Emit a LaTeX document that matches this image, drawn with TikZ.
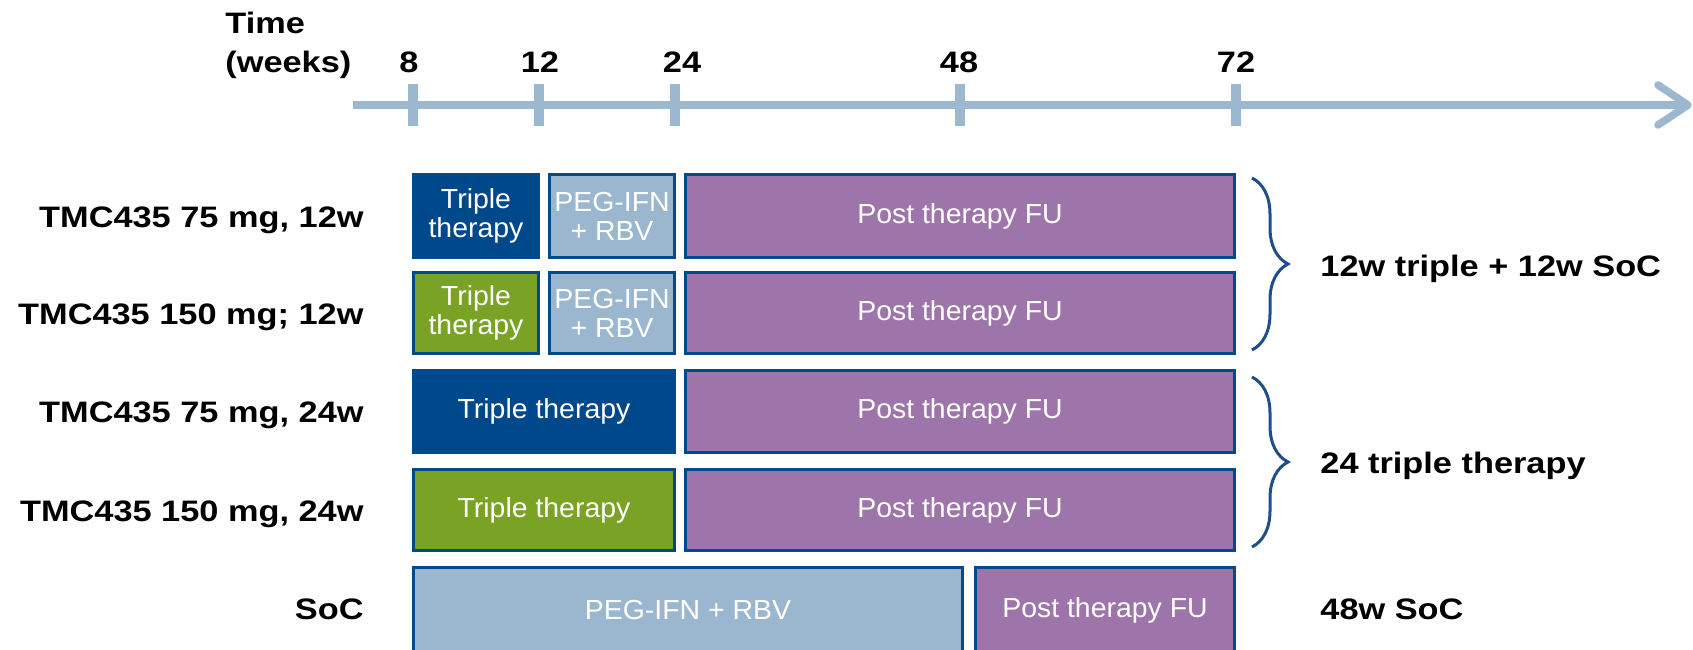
\documentclass[tikz,border=0pt]{standalone}
\usepackage{fontspec}
\setmainfont{Liberation Sans}
\newfontfamily\lblfont{Liberation Sans}[FakeStretch=1.16]
\newfontfamily\boxfont{Liberation Sans}[FakeStretch=1.03]
\usetikzlibrary{decorations.pathreplacing}
\definecolor{axisc}{RGB}{155,184,208}
\definecolor{dblue}{RGB}{0,72,140}
\definecolor{edgec}{RGB}{0,74,140}
\definecolor{greenc}{RGB}{122,162,37}
\definecolor{lblue}{RGB}{155,183,207}
\definecolor{purp}{RGB}{158,117,170}
\definecolor{bracec}{RGB}{30,78,140}
\begin{document}
\begin{tikzpicture}[x=0.5pt,y=-0.5pt,
  bar/.style={rectangle, draw=edgec, line width=1.3pt, inner sep=0pt, text=white, align=center,
              font=\boxfont\fontsize{13.8}{14.6}\selectfont},
  lbl/.style={inner sep=0pt, text=black, font=\lblfont\bfseries\fontsize{14.8}{16}\selectfont},
  brc/.style={draw=bracec, line width=1.5pt, decorate, decoration={brace, amplitude=18pt}},
  axl/.style={draw=axisc, line width=3.8pt},
  tck/.style={draw=axisc, line width=5pt}
]
\useasboundingbox (0,0) rectangle (1693,649);
\clip (0,0) rectangle (1693,649);

% time axis
\node[lbl, anchor=base west] (time) at (225,33) {Time};
\node[lbl, anchor=base west] (weeks) at (225,72) {(weeks)};
\coordinate (a0) at (353,105);
\coordinate (a1) at (1688,105);
\coordinate (h1) at (1658,85);
\coordinate (h2) at (1658,125);
\draw[axl] (a0) -- (a1);
\draw[axl, line cap=round, line join=round] (h1) -- (a1) -- (h2);
\foreach \x in {413,539,675,960,1236} \draw[tck] (\x,84) -- (\x,126);
\node[lbl, anchor=base] (w8) at (409,72) {8};
\node[lbl, anchor=base] (w12) at (540,72) {12};
\node[lbl, anchor=base] (w24) at (682,72) {24};
\node[lbl, anchor=base] (w48) at (959,72) {48};
\node[lbl, anchor=base] (w72) at (1236,72) {72};

% row labels
\node[lbl, anchor=base east] (l1) at (364,227) {TMC435 75 mg, 12w};
\node[lbl, anchor=base east] (l2) at (364,324) {TMC435 150 mg; 12w};
\node[lbl, anchor=base east] (l3) at (364,422) {TMC435 75 mg, 24w};
\node[lbl, anchor=base east] (l4) at (364,521) {TMC435 150 mg, 24w};
\node[lbl, anchor=base east] (l5) at (364,619) {SoC};

% row 1
\node[bar, fill=dblue, minimum width=62.7pt, minimum height=41.7pt] (t1) at (476,216) {Triple\\therapy};
\node[bar, fill=lblue, minimum width=62.7pt, minimum height=41.7pt] (p1) at (612,216) {PEG-IFN\\+ RBV};
\node[bar, fill=purp, minimum width=274.7pt, minimum height=41.7pt] (f1) at (960,216) {Post therapy FU};
% row 2
\node[bar, fill=greenc, minimum width=62.7pt, minimum height=40.7pt] (t2) at (476,313) {Triple\\therapy};
\node[bar, fill=lblue, minimum width=62.7pt, minimum height=40.7pt] (p2) at (612,313) {PEG-IFN\\+ RBV};
\node[bar, fill=purp, minimum width=274.7pt, minimum height=40.7pt] (f2) at (960,313) {Post therapy FU};
% row 3
\node[bar, fill=dblue, minimum width=130.7pt, minimum height=41.2pt] (t3) at (544,411.5) {Triple therapy};
\node[bar, fill=purp, minimum width=274.7pt, minimum height=41.2pt] (f3) at (960,411.5) {Post therapy FU};
% row 4
\node[bar, fill=greenc, minimum width=130.7pt, minimum height=40.7pt] (t4) at (544,510) {Triple therapy};
\node[bar, fill=purp, minimum width=274.7pt, minimum height=40.7pt] (f4) at (960,510) {Post therapy FU};
% row 5
\node[bar, fill=lblue, minimum width=274.7pt, minimum height=42.7pt] (p5) at (688,610) {PEG-IFN + RBV};
\node[bar, fill=purp, minimum width=129.7pt, minimum height=42.7pt] (f5) at (1105,610) {Post therapy FU};

% braces and group labels
\coordinate (b1a) at (1252,178);
\coordinate (b1b) at (1252,350);
\coordinate (b2a) at (1252,377);
\coordinate (b2b) at (1252,547);
\draw[brc] (b1a) -- (b1b);
\draw[brc] (b2a) -- (b2b);
\node[lbl, anchor=base west] (g1) at (1320,276) {12w triple + 12w SoC};
\node[lbl, anchor=base west] (g2) at (1320,473) {24 triple therapy};
\node[lbl, anchor=base west] (g3) at (1320,619) {48w SoC};
\end{tikzpicture}
\end{document}
